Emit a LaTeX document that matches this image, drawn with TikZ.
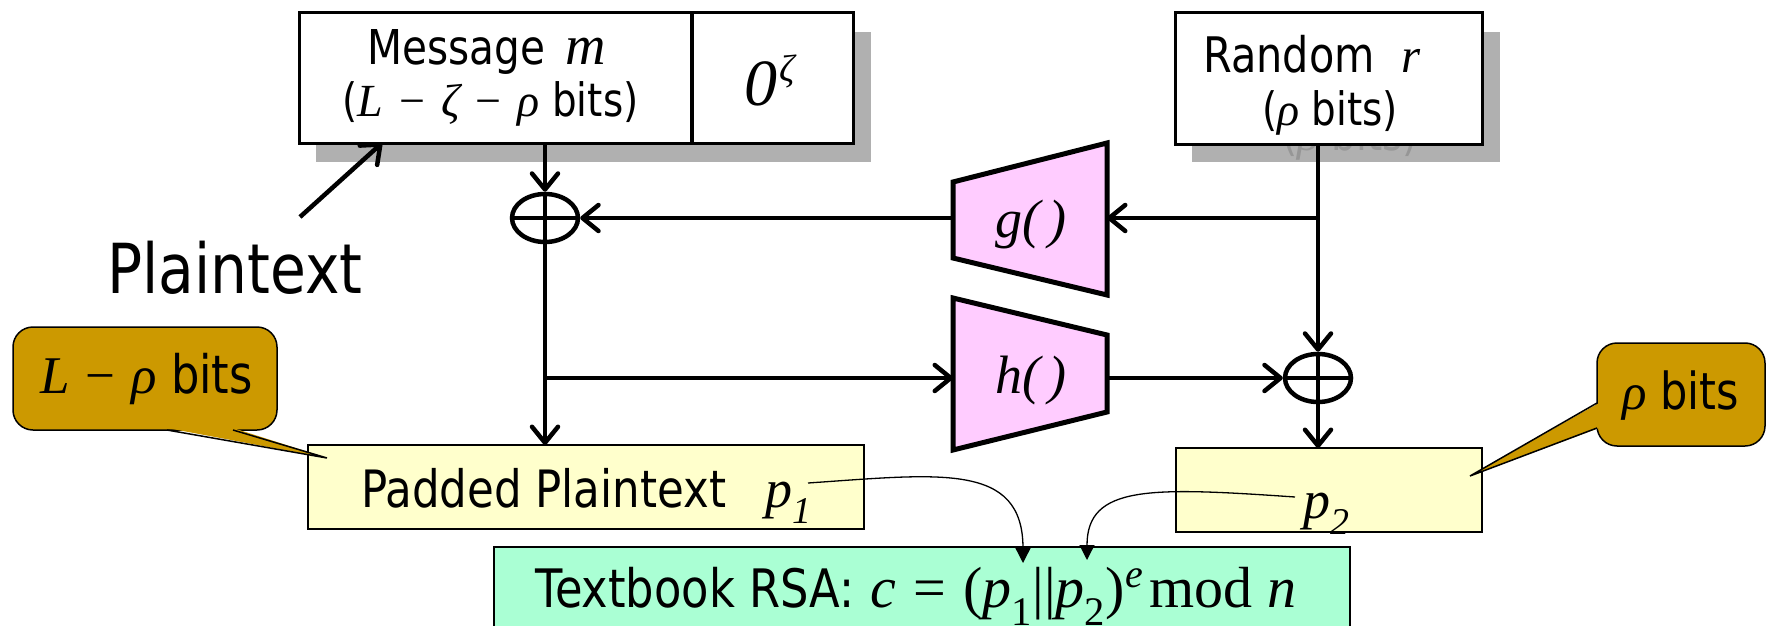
\documentclass[tikz,border=0pt]{standalone}
\usepackage{fontspec}
\setmainfont{DejaVu Sans}[FakeStretch=0.845]
\newfontfamily\tms{Liberation Serif}
\usetikzlibrary{arrows.meta,shapes.geometric,calc}
\definecolor{shadowgray}{RGB}{176,176,176}
\definecolor{ghostgray}{RGB}{150,150,150}
\definecolor{hashpink}{RGB}{255,204,255}
\definecolor{padyellow}{RGB}{255,255,204}
\definecolor{rsamint}{RGB}{170,255,212}
\definecolor{calloutgold}{RGB}{204,153,0}
\newcommand{\fs}[1]{\fontsize{#1}{#1}\selectfont}
\newcommand{\vi}[1]{{\tms\itshape #1}}
\newcommand{\vu}[1]{{\tms #1}}
\begin{document}
\begin{tikzpicture}[x=1pt,y=-1pt,
  flow/.style={line width=4.5pt,-{Straight Barb[length=16pt,width=26pt,round]}},
  plainline/.style={line width=4.5pt},
  topbox/.style={draw,line width=3pt,fill=white,inner sep=0pt,outer sep=0pt},
  padbox/.style={draw,line width=1.8pt,fill=padyellow,inner sep=0pt,outer sep=0pt},
  rsabox/.style={draw,line width=1.8pt,fill=rsamint,inner sep=0pt,outer sep=0pt},
  hashfn/.style={draw,line width=5pt,fill=hashpink,line join=miter},
  xorop/.style={ellipse,draw,line width=4.5pt,minimum width=66pt,minimum height=48pt,inner sep=0pt},
  txt/.style={inner sep=0pt,anchor=base west},
  ctxt/.style={inner sep=0pt,anchor=base},
  callout/.style={draw,line width=1.5pt,fill=calloutgold},
  pointer/.style={line width=1.5pt,line join=miter},
  link/.style={line width=1.3pt,-{Triangle[length=15pt,width=15pt]}}
]
\useasboundingbox (0,0) rectangle (1767,626);

% drop shadows of the two input boxes
\fill[shadowgray] (316,32) rectangle (871,162);
\fill[shadowgray] (1192,32) rectangle (1500,162);
\begin{scope}
  \clip (1192,144) rectangle (1500,162);
  \node[txt,text=ghostgray] (ghost) at (1282,150) {\fs{46}(\vi{ρ} bits)};
\end{scope}

% input boxes
\node[topbox,minimum width=393pt,minimum height=130pt] (msg) at (495.5,78) {};
\node[topbox,minimum width=161pt,minimum height=130pt] (zero) at (772.5,78) {};
\draw[line width=4.5pt] (zero.north west) -- (zero.south west);
\node[topbox,minimum width=307pt,minimum height=131pt] (rnd) at (1328.5,78.5) {};

\node[txt] (msgtxt) at (367,64) {\fs{48}Message};
\node[txt] (msgvar) at (565,64) {\fs{56}\vi{m}};
\node[txt] (msgbits) at (342,116) {\fs{46}(\vi{L}\hspace{0.35em}\vu{−}\hspace{0.35em}\vi{ζ}\hspace{0.35em}\vu{−}\hspace{0.35em}\vi{ρ} bits)};
\node[ctxt] (zerotxt) at (770,105) {\fs{66}\tms\itshape 0\hspace{0.03em}\raisebox{24pt}{\fs{38}ζ}};
\node[txt] (rndtxt) at (1203,73) {\fs{49}Random\hspace{0.55em}\vi{r}};
\node[txt] (rndbits) at (1262,125) {\fs{46}(\vi{ρ} bits)};

\node[txt] (ptlabel) at (107,293) {\fs{69}Plaintext};

% hash functions
\draw[hashfn] (953,182) -- (1107,143) -- (1107,295) -- (953,258) -- cycle;
\node[ctxt] (g) at (1031,237) {\fs{54}\tms\itshape g(\,)};
\coordinate (gE) at (1107,218);
\coordinate (gW) at (953,218);
\draw[hashfn] (953,298) -- (1107,335) -- (1107,412) -- (953,450) -- cycle;
\node[ctxt] (h) at (1031,393) {\fs{54}\tms\itshape h(\,)};
\coordinate (hE) at (1107,378);
\coordinate (hW) at (953,378);

% xor operators
\node[xorop] (x1) at (545,218) {};
\node[xorop] (x2) at (1318,378) {};
\draw[plainline] (x1.north) -- (x1.south) (x1.west) -- (x1.east);
\draw[plainline] (x2.north) -- (x2.south) (x2.west) -- (x2.east);

% output boxes
\node[padbox,minimum width=556pt,minimum height=84pt] (pad) at (586,487) {};
\node[padbox,minimum width=306pt,minimum height=84pt] (p2box) at (1329,490) {};
\node[rsabox,minimum width=856pt,minimum height=113pt] (rsa) at (922,603.5) {};

\node[txt] (padtxt) at (361,507) {\fs{51.5}Padded Plaintext};
\node[txt] (p1) at (765,507) {\fs{54}\tms\itshape p\textsubscript{1}};
\node[txt] (p2) at (1303,518) {\fs{54}\tms\itshape p\textsubscript{2}};
\node[txt] (rsatxt) at (535,607) {\fs{53}Textbook RSA:\hspace{0.3em}{\tms\fs{58}\itshape c\upshape\hspace{0.3em}=\hspace{0.3em}(\itshape p\upshape\textsubscript{1}||\itshape p\upshape\textsubscript{2})\raisebox{20pt}{\fs{40}\itshape e}\hspace{0.12em}mod\hspace{0.25em}\itshape n}};

% data flow
\coordinate (ptail) at (300,217);
\draw[flow] (ptail) -- ([xshift=83pt]msg.south west);
\draw[flow] (x1 |- msg.south) -- (x1.north);
\draw[flow] (gW) -- (x1.east);
\draw[flow] (x1.south) -- (x1 |- pad.north);
\draw[flow] (x1 |- hW) -- (hW);
\draw[flow] (x2 |- rnd.south) -- (x2.north);
\draw[flow] (x2 |- gE) -- (gE);
\draw[flow] (hE) -- (x2.west);
\draw[flow] (x2.south) -- (x2 |- p2box.north);

% concatenation into RSA
\coordinate (c1) at (808,483);
\coordinate (t1) at (1023,563);
\coordinate (c2) at (1295,497);
\coordinate (t2) at (1087,560);
\draw[link] (c1) .. controls (940,474) and (1023,462) .. (t1);
\draw[link] (c2) .. controls (1150,487) and (1087,485) .. (t2);

% size callouts: rounded body, then a pointer that hides the border under it
\node[callout,rounded corners=20pt,minimum width=264pt,minimum height=103pt,inner sep=0pt] (lcall) at (145,378.5) {};
\fill[calloutgold] (167,428) -- (327,458) -- (233,428) -- cycle;
\draw[pointer] (167,430) -- (327,458) -- (233,430);
\node[txt] (lrho) at (40,393) {\fs{53}\vi{L}\hspace{0.3em}\vu{−}\hspace{0.3em}\vi{ρ} bits};

\node[callout,rounded corners=20pt,minimum width=168pt,minimum height=103pt,inner sep=0pt] (rcall) at (1681,394.5) {};
\fill[calloutgold] (1599,403) -- (1470,476) -- (1599,428) -- cycle;
\draw[pointer] (1597,403) -- (1470,476) -- (1597,428);
\node[txt] (rho) at (1622,409) {\fs{51}\vi{ρ} bits};
\end{tikzpicture}
\end{document}
